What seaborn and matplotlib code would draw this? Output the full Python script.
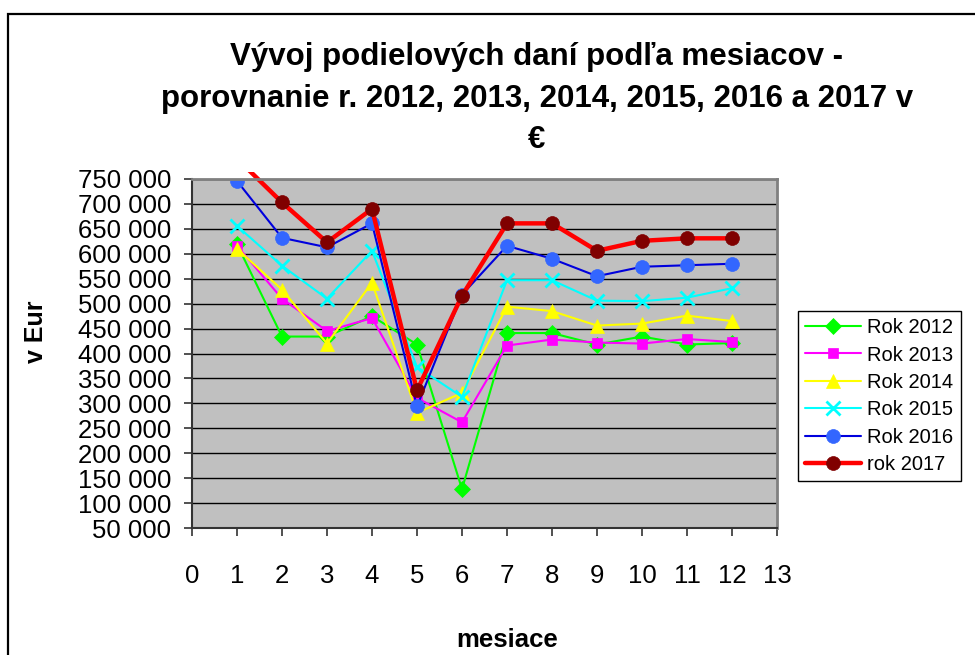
import matplotlib
matplotlib.use('Agg')
import matplotlib.pyplot as plt
from matplotlib.patches import Rectangle
from matplotlib.ticker import FuncFormatter
import seaborn as sns
import pandas as pd

# mesiace 1..12
months = list(range(1, 13))

rok_2012 = [619000, 434000, 434000, 475000, 418000, 128000, 441000, 441000, 418000, 434000, 418000, 421000]
rok_2013 = [616000, 510000, 445000, 471000, 311000, 262000, 416000, 428000, 422000, 420000, 429000, 423000]
rok_2014 = [610000, 528000, 420000, 542000, 281000, 321000, 494000, 485000, 456000, 460000, 476000, 465000]
rok_2015 = [656000, 576000, 510000, 606000, 373000, 313000, 547000, 547000, 506000, 505000, 512000, 531000]
rok_2016 = [746000, 632000, 613000, 661000, 294000, 518000, 616000, 590000, 555000, 574000, 577000, 580000]
rok_2017 = [791000, 703000, 623000, 690000, 326000, 516000, 661000, 661000, 606000, 626000, 631000, 631000]

labels = ['Rok 2012', 'Rok 2013', 'Rok 2014', 'Rok 2015', 'Rok 2016', 'rok 2017']
series = [rok_2012, rok_2013, rok_2014, rok_2015, rok_2016, rok_2017]

# styl: (farba ciary, marker, vypln markera, velkost, hrubka ciary)
styles = [
    ('#00FF00', 'D', '#00FF00', 8, 1.5),
    ('#FF00FF', 's', '#FF00FF', 7, 1.5),
    ('#FFFF00', '^', '#FFFF00', 10, 1.5),
    ('#00FFFF', 'x', '#00FFFF', 10, 1.5),
    ('#0000DD', 'o', '#3366FF', 10, 1.5),
    ('#FF0000', 'o', '#800000', 10, 3.2),
]

df = pd.DataFrame({'mesiac': months * len(labels),
                   'hodnota': sum(series, []),
                   'rok': [lab for lab in labels for _ in months]})

sns.set_style('white')
plt.rcParams['font.family'] = ['Liberation Sans', 'DejaVu Sans']
plt.rcParams['text.color'] = 'black'
plt.rcParams['xtick.color'] = 'black'
plt.rcParams['ytick.color'] = 'black'

fig = plt.figure(figsize=(9.75, 6.55), dpi=100)
ax = fig.add_axes([192 / 975, 1 - 528 / 655, (777 - 192) / 975, (528 - 179) / 655])
ax.set_facecolor('#C0C0C0')

for lab, (col, mk, mfc, ms, lw) in zip(labels, styles):
    sub = df[df['rok'] == lab]
    sns.lineplot(data=sub, x='mesiac', y='hodnota', ax=ax, color=col, marker=mk,
                 markerfacecolor=mfc, markeredgecolor=mfc, markersize=ms,
                 markeredgewidth=2 if mk == 'x' else 0.5, linewidth=lw, label=lab)

# rok 2017 v januari presahuje os - ciara mierne nad plochu grafu
line17 = ax.get_lines()[-1]
line17.set_clip_path(Rectangle((0, 0), 1, 1.02, transform=ax.transAxes))

ax.set_xlim(0, 13)
ax.set_ylim(50000, 750000)
ax.set_xticks(range(0, 14))
ax.set_yticks(range(50000, 750001, 50000))
ax.yaxis.set_major_formatter(FuncFormatter(lambda v, p: f'{int(v):,}'.replace(',', ' ')))
ax.grid(axis='y', color='black', linewidth=1)
ax.grid(axis='x', visible=False)
ax.set_axisbelow(True)
ax.tick_params(axis='y', direction='out', length=6, width=1.2, color='#333333',
               labelsize=18.5, pad=9, left=True, labelcolor='black')
ax.tick_params(axis='x', direction='out', length=6, width=1.2, color='#333333',
               labelsize=18.5, pad=20, bottom=True, labelcolor='black')
for side in ['top', 'right']:
    ax.spines[side].set_color('#808080')
    ax.spines[side].set_linewidth(2)
for side in ['left', 'bottom']:
    ax.spines[side].set_color('#333333')
    ax.spines[side].set_linewidth(1.5)

ax.set_xlabel('')
ax.set_ylabel('')

fig.text(537 / 975, 1 - 42 / 655,
         'Vývoj podielových daní podľa mesiacov -\nporovnanie r. 2012, 2013, 2014, 2015, 2016 a 2017 v\n€',
         ha='center', va='top', fontsize=22.5, fontweight='bold', linespacing=1.5,
         color='black')
fig.text(507 / 975, 1 - 640 / 655, 'mesiace', ha='center', va='center',
         fontsize=18.5, fontweight='bold', color='black')
fig.text(36 / 975, 1 - 332 / 655, 'v Eur', ha='center', va='center',
         fontsize=18, fontweight='bold', rotation=90, color='black')

leg = ax.legend(loc='upper left', bbox_to_anchor=(798 / 975, 1 - 311 / 655),
                bbox_transform=fig.transFigure, fontsize=14.5, frameon=True,
                fancybox=False, edgecolor='black', framealpha=1,
                handlelength=2.8, handletextpad=0.3, labelspacing=0.42,
                borderpad=0.35, borderaxespad=0)
leg.get_frame().set_linewidth(1)
for t in leg.get_texts():
    t.set_color('black')

# ramcek grafu
fig.patches.append(Rectangle((8 / 975, -0.1), 1.2, 1.1 - 14 / 655,
                             transform=fig.transFigure, fill=False,
                             edgecolor='black', linewidth=1.6, zorder=0))

plt.savefig('out.png', dpi=100)
plt.close()
